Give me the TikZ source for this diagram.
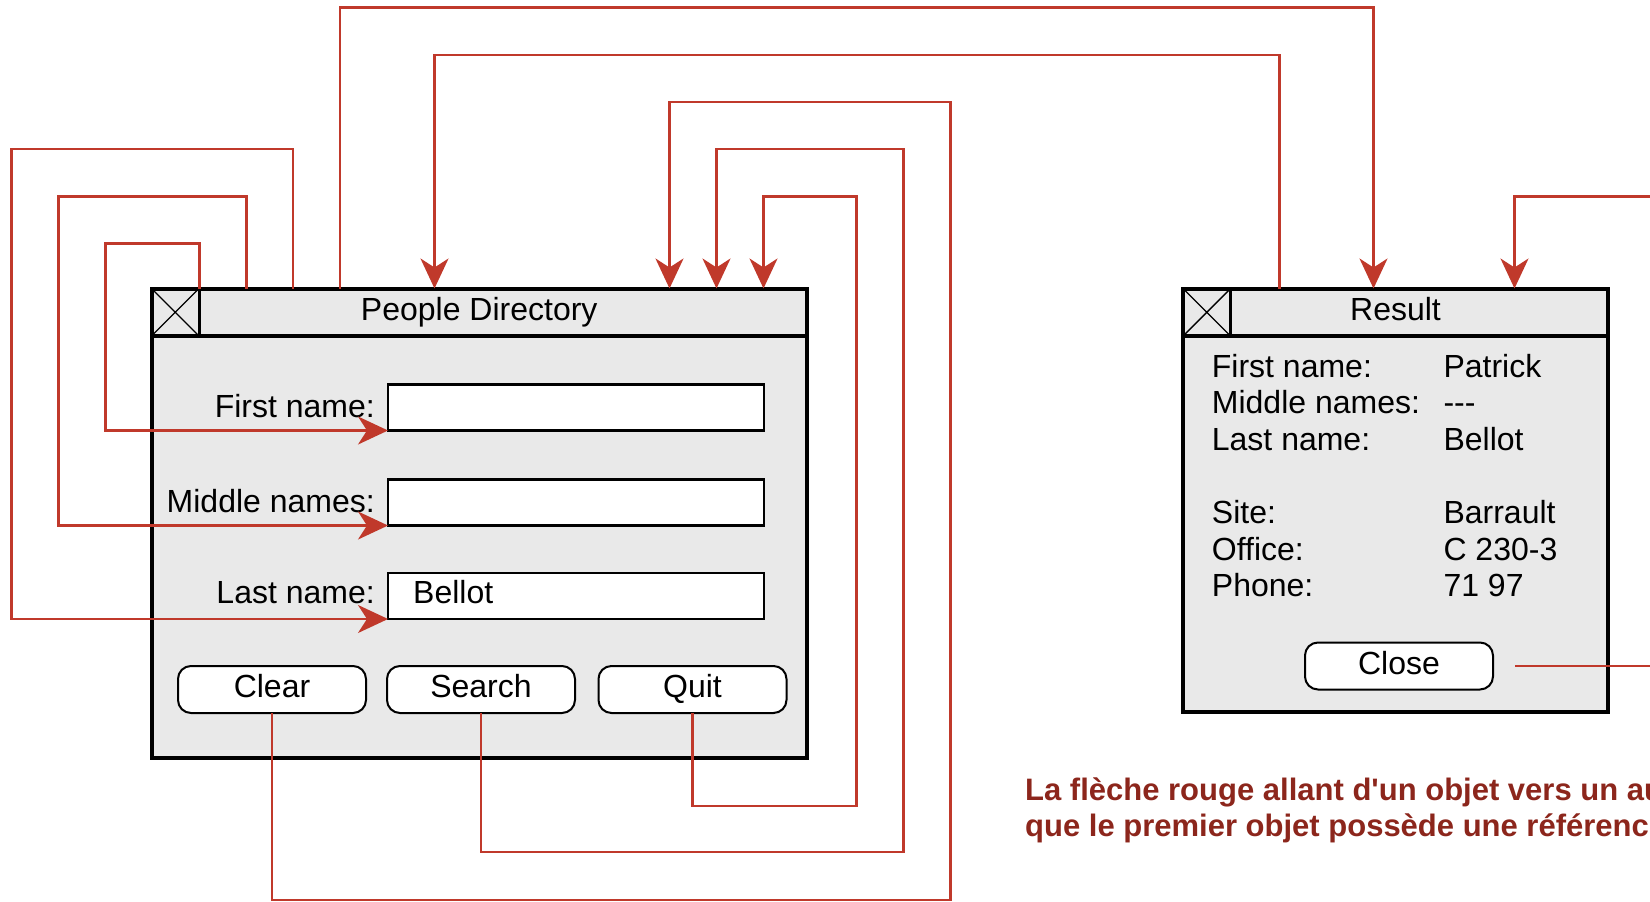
\documentclass[tikz,border=0pt]{standalone}
\usepackage{fontspec}
\setmainfont{Liberation Sans}[Ligatures=TeXOff]
\usetikzlibrary{arrows.meta,calc}
\definecolor{refred}{RGB}{192,57,43}
\definecolor{notered}{RGB}{140,38,28}
\definecolor{winfill}{RGB}{233,233,233}

\begin{document}
\begin{tikzpicture}[x=1pt,y=-1pt,
  ui/.style={font=\fontsize{32}{38}\selectfont},
  window/.style={draw, line width=4pt, fill=winfill, rectangle,
    inner sep=0pt, outer sep=0pt, anchor=north west},
  titlebar/.style={window, minimum height=47.5pt, ui,
    text height=23pt, text depth=7pt},
  closebox/.style={draw, line width=3pt, rectangle, minimum size=47.5pt,
    inner sep=0pt, outer sep=0pt, anchor=north west},
  cross/.style={line width=1.4pt},
  field/.style={draw, line width=2.5pt, fill=white, rectangle,
    minimum width=376pt, minimum height=46pt,
    inner sep=0pt, outer sep=0pt, anchor=north west},
  button/.style={draw, line width=2pt, fill=white, rounded corners=13pt,
    minimum width=188pt, minimum height=47pt, inner sep=0pt, outer sep=0pt,
    ui, text height=23pt, text depth=7pt},
  lbl/.style={ui, inner sep=0pt},
  ref/.style={draw=refred, line width=2.1pt},
  tip/.style={-{Stealth[length=30pt,width=28pt,inset=9pt]}},
  note/.style={font=\fontsize{31}{36}\bfseries\selectfont, text=notered,
    inner sep=0pt, anchor=base west}
]
\useasboundingbox (0,0) rectangle (1650,902);
\clip (0,0) rectangle (1650,902);

% ---- People Directory window ----
\node[window, minimum width=655.5pt, minimum height=469pt] (pd) at (151.5,288.5) {};
\node[titlebar, minimum width=655.5pt] (pdtitle) at (pd.north west) {People Directory};
\node[closebox] (pdx) at (pd.north west) {};
\draw[cross] (pdx.north west) -- (pdx.south east) (pdx.south west) -- (pdx.north east);

\node[field] (f1) at (388,384.5) {};
\node[field] (f2) at (388,479.5) {};
\node[field] (f3) at (388,573) {};
\node[lbl, anchor=base east] (l1) at (375,417) {First name:};
\node[lbl, anchor=base east] (l2) at (375,512) {Middle names:};
\node[lbl, anchor=base east] (l3) at (375,603) {Last name:};
\node[lbl, anchor=base west] (v3) at (413,603) {Bellot};

\node[button] (clear) at (272,689.5) {Clear};
\node[button] (search) at (481,689.5) {Search};
\node[button] (quit) at (692.5,689.5) {Quit};

% ---- Result window ----
\node[window, minimum width=425pt, minimum height=423.5pt] (rn) at (1183,288.5) {};
\node[titlebar, minimum width=425pt] (rntitle) at (rn.north west) {Result};
\node[closebox] (rnx) at (rn.north west) {};
\draw[cross] (rnx.north west) -- (rnx.south east) (rnx.south west) -- (rnx.north east);

\node[lbl, anchor=base west] (rl1) at (1211.7,377) {First name:};
\node[lbl, anchor=base west] (rl2) at (1211.7,413.3) {Middle names:};
\node[lbl, anchor=base west] (rl3) at (1211.7,450) {Last name:};
\node[lbl, anchor=base west] (rl4) at (1211.7,523) {Site:};
\node[lbl, anchor=base west] (rl5) at (1211.7,560) {Office:};
\node[lbl, anchor=base west] (rl6) at (1211.7,596.7) {Phone:};
\node[lbl, anchor=base west] (rv1) at (1443.3,377) {Patrick};
\node[lbl, anchor=base west] (rv2) at (1443.3,413.3) {---};
\node[lbl, anchor=base west] (rv3) at (1443.3,450) {Bellot};
\node[lbl, anchor=base west] (rv4) at (1443.3,523) {Barrault};
\node[lbl, anchor=base west] (rv5) at (1443.3,560) {C 230-3};
\node[lbl, anchor=base west] (rv6) at (1443.3,596.7) {71 97};

\node[button] (closebtn) at (1399,666) {Close};

% ---- references ----
% window to its own text fields
\draw[ref,tip] (pd.north -| 199.5,0) |- (105.5,243.5) |- (f1.south west);
\draw[ref,tip] (pd.north -| 246.5,0) |- (58.5,196.5) |- (f2.south west);
\draw[ref,tip] (pd.north -| 293,0) |- (11.5,149) |- (f3.south west);

% between the two windows
\draw[ref,tip] (pd.north -| 340,0) |- (1373.5,7.5) -- (rn.north -| 1373.5,0);
\draw[ref,tip] (rn.north -| 1279.5,0) |- (434.5,55) -- (pd.north -| 434.5,0);

% buttons back to their window
\draw[ref,tip] (clear.south) |- (950.5,900) |- (669.5,102) -- (pd.north -| 669.5,0);
\draw[ref,tip] (search.south) |- (903.5,852) |- (716.5,149) -- (pd.north -| 716.5,0);
\draw[ref,tip] (quit.south) |- (856.5,806) |- (763.5,196.5) -- (pd.north -| 763.5,0);

% close button back to the result window
\coordinate (closeout) at ($(closebtn.east)+(22,0)$);
\draw[ref] (closeout) -- (closeout -| 1665,0);
\draw[ref,tip] (1665,196.5) -| (rn.north -| 1514.5,0);

% ---- caption ----
\node[note] (n1) at (1025,800.7) {La flèche rouge allant d'un objet vers un au};
\node[note] (n2) at (1025,836.5) {que le premier objet possède une référenc};
\end{tikzpicture}
\end{document}
